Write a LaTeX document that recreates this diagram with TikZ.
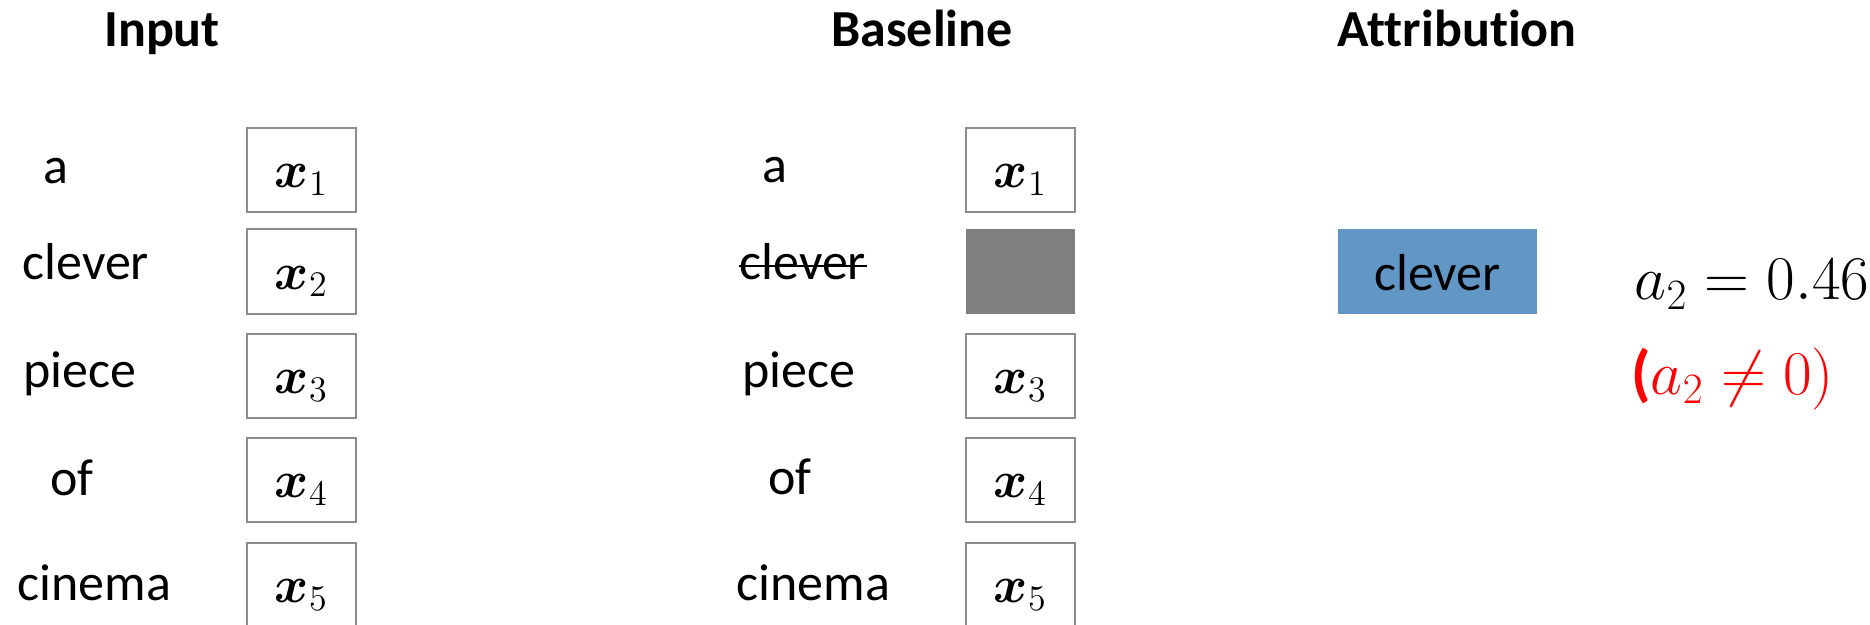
\documentclass[tikz,border=0pt]{standalone}
\usepackage{fontspec}
\setmainfont{Carlito}[Ligatures=NoCommon]
\usepackage{amsmath,bm}
\definecolor{boxline}{RGB}{140,140,140}
\definecolor{maskgray}{RGB}{127,127,127}
\definecolor{attrblue}{RGB}{97,150,197}
\begin{document}
\begin{tikzpicture}[x=0.4pt,y=-0.4pt,
  every node/.style={font=\fontsize{20.8}{25}\selectfont},
  title/.style={font=\fontsize{20.8}{25}\selectfont\bfseries, anchor=base, inner sep=0pt},
  word/.style={anchor=base west, inner sep=0pt},
  tokbox/.style={draw=boxline, line width=0.8pt, minimum width=43.6pt, minimum height=33.6pt,
                 inner sep=0pt, text height=14pt, text depth=0pt, font=\fontsize{22}{26}\selectfont},
  maskbox/.style={fill=maskgray, minimum width=43.6pt, minimum height=34pt, inner sep=0pt},
  attrbox/.style={fill=attrblue, minimum width=79.6pt, minimum height=34pt, inner sep=0pt,
                  text height=15.2pt, text depth=0pt},
  eqn/.style={anchor=base west, inner sep=0pt, font=\fontsize{25}{30}\selectfont}
]
\useasboundingbox (0,0) rectangle (1870,625);

% column headings
\node[title] (tin)   at (162,47)  {Input};
\node[title] (tbase) at (922,47)  {Baseline};
\node[title] (tattr) at (1457,47) {Attribution};

% input sentence and its token boxes
\node[word] (iw1) at (43,184)  {a};
\node[word] (iw2) at (22,279)  {clever};
\node[word] (iw3) at (23,387)  {piece};
\node[word] (iw4) at (50,495)  {of};
\node[word] (iw5) at (17,600)  {cinema};

\node[tokbox] (ix1) at (301.5,170.5) {$\bm{x}_1$};
\node[tokbox] (ix2) at (301.5,271.5) {$\bm{x}_2$};
\node[tokbox] (ix3) at (301.5,376)   {$\bm{x}_3$};
\node[tokbox] (ix4) at (301.5,480)   {$\bm{x}_4$};
\node[tokbox] (ix5) at (301.5,585)   {$\bm{x}_5$};

% baseline sentence: the second token is masked out
\node[word] (mw1) at (762,183) {a};
\node[word] (mw2) at (739,280) {clever};
\node[word] (mw3) at (742,387) {piece};
\node[word] (mw4) at (768,494) {of};
\node[word] (mw5) at (736,600) {cinema};
\draw[line width=0.9pt] ([yshift=5.6pt]mw2.base west) -- ([yshift=5.6pt]mw2.base east);

\node[tokbox]  (mx1) at (1020.5,170.5) {$\bm{x}_1$};
\node[maskbox] (mx2) at (1020.5,271.5) {};
\node[tokbox]  (mx3) at (1020.5,376)   {$\bm{x}_3$};
\node[tokbox]  (mx4) at (1020.5,480)   {$\bm{x}_4$};
\node[tokbox]  (mx5) at (1020.5,585)   {$\bm{x}_5$};

% attribution result
\node[attrbox] (attr) at (1437.5,271.5) {clever};
\node[eqn] (aval) at (1634,300) {$a_2 = 0.46$};
\node[eqn, text=red] (anz) at (1631,394) {\textbf{(}$a_2 \neq 0)$};
\end{tikzpicture}
\end{document}
